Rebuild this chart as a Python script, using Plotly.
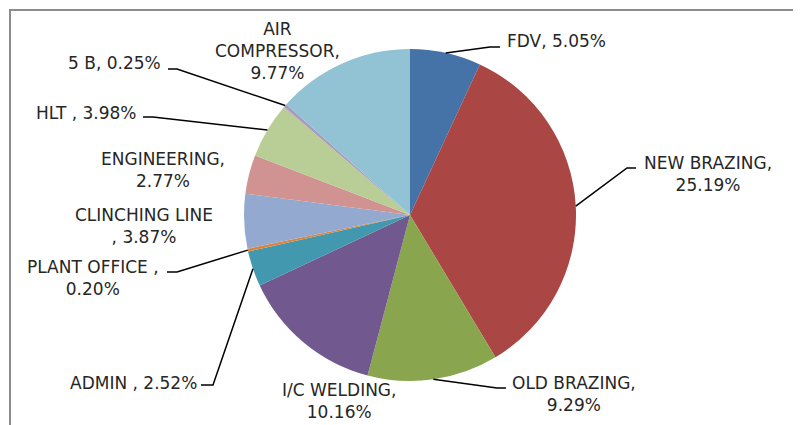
import math
import plotly.graph_objects as go

# ---- data ----
categories = ["FDV", "NEW BRAZING", "OLD BRAZING", "I/C WELDING", "ADMIN",
              "PLANT OFFICE", "CLINCHING LINE", "ENGINEERING", "HLT", "5 B",
              "AIR COMPRESSOR"]
values = [5.05, 25.19, 9.29, 10.16, 2.52, 0.20, 3.87, 2.77, 3.98, 0.25, 9.77]
label_texts = ["FDV, 5.05%", "NEW BRAZING,<br>25.19%", "OLD BRAZING,<br>9.29%",
               "I/C WELDING,<br>10.16%", "ADMIN , 2.52%", "PLANT OFFICE ,<br>0.20%",
               "CLINCHING LINE<br>, 3.87%", "ENGINEERING,<br>2.77%", "HLT , 3.98%",
               "5 B, 0.25%", "AIR<br>COMPRESSOR,<br>9.77%"]
colors = ["#4572A7", "#AA4643", "#89A54E", "#71588F", "#4198AF", "#DB843D",
          "#93A9CF", "#D19392", "#B9CD96", "#A99BBD", "#92C3D4"]

# page body has an 8px default margin; size the figure so it fills the window
OFF = 8
W, H = 801 - OFF, 425 - OFF
CX, CY, R = 410, 215, 166   # in window pixels


def px(x):
    return (x - OFF) / W


def py(y):
    return 1 - (y - OFF) / H


fig = go.Figure()
fig.add_trace(go.Pie(
    labels=categories, values=values, sort=False, direction="clockwise",
    rotation=0, textinfo="none", hoverinfo="label+value",
    marker=dict(colors=colors, line=dict(width=0)),
    domain=dict(x=[px(CX - R), px(CX + R)], y=[py(CY + R), py(CY - R)]),
    showlegend=False,
))

# label layout: (x, y, xanchor, elbow, end) in window pixels
label_layout = {
    "FDV": (505, 41, "left", (490, 47), (500, 47)),
    "NEW BRAZING": (708, 174, "center", (627, 168), (636, 168)),
    "OLD BRAZING": (574, 394, "center", (497, 388), (506, 388)),
    "I/C WELDING": (339, 401, "center", None, None),
    "ADMIN": (199, 383, "right", (213, 385), (201, 385)),
    "PLANT OFFICE": (93, 278, "center", (177, 272), (167, 272)),
    "CLINCHING LINE": (144, 226, "center", None, None),
    "ENGINEERING": (163, 170, "center", None, None),
    "HLT": (139, 113, "right", (153, 117), (143, 117)),
    "5 B": (163, 63, "right", (177, 69), (168, 69)),
    "AIR COMPRESSOR": (277, 51, "center", None, None),
}

total = sum(values)
cum = 0.0
shapes = []
annotations = []
for cat, v, txt in zip(categories, values, label_texts):
    mid = 2 * math.pi * (cum + v / 2) / total
    cum += v
    ex, ey = CX + R * math.sin(mid), CY - R * math.cos(mid)
    lx, ly, anc, elbow, end = label_layout[cat]
    annotations.append(dict(
        x=px(lx), y=py(ly), xref="paper", yref="paper", text=txt,
        showarrow=False, xanchor=anc, yanchor="middle", align="center",
        font=dict(family="DejaVu Sans", size=17, color="#262626"),
    ))
    if elbow is not None:
        path = (f"M {px(ex)},{py(ey)} L {px(elbow[0])},{py(elbow[1])} "
                f"L {px(end[0])},{py(end[1])}")
        shapes.append(dict(type="path", xref="paper", yref="paper", path=path,
                           line=dict(color="#000000", width=1.5)))

# chart border (top and left edges visible)
shapes.append(dict(type="line", xref="paper", yref="paper",
                   x0=px(9), y0=py(10), x1=1, y1=py(10),
                   line=dict(color="#8c8c8c", width=2)))
shapes.append(dict(type="line", xref="paper", yref="paper",
                   x0=px(10), y0=py(9), x1=px(10), y1=0,
                   line=dict(color="#8c8c8c", width=2)))

fig.update_layout(
    width=W, height=H, margin=dict(l=0, r=0, t=0, b=0),
    paper_bgcolor="white", plot_bgcolor="white",
    shapes=shapes, annotations=annotations, showlegend=False,
)

fig.write_html("out.html")
